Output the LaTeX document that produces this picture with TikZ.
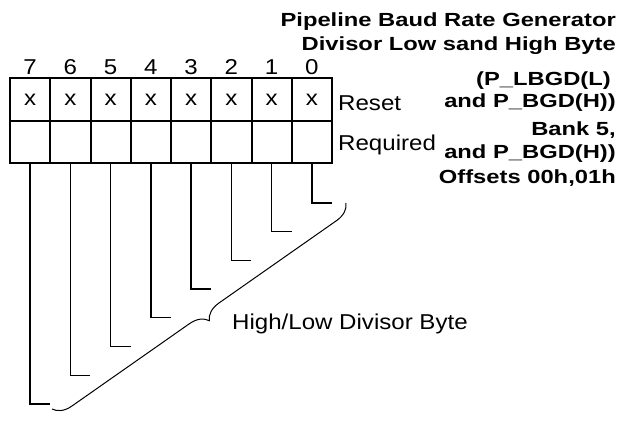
\documentclass[tikz,border=0pt]{standalone}
\usepackage{fontspec}
\setmainfont{Liberation Sans}
\newfontfamily\regfont{Liberation Sans}[FakeStretch=1.12]
\newfontfamily\hdrfont{Liberation Sans}[FakeStretch=1.25]
\usetikzlibrary{positioning,decorations.pathreplacing}

\begin{document}
\begin{tikzpicture}[x=1pt, y=-1pt,
  cell/.style={draw, line width=2pt, minimum width=40.25pt, minimum height=43pt, inner sep=0pt, font=\regfont\fontsize{21.5}{24}\selectfont},
  lbl/.style={inner sep=0pt, font=\regfont\fontsize{21.5}{24}\selectfont},
  hdr/.style={inner sep=0pt, anchor=base east, font=\hdrfont\bfseries\fontsize{19}{22}\selectfont},
  lead/.style={line width=1.3pt},
  brc/.style={decorate, decoration={brace, amplitude=18pt}, line width=1pt}
]
\useasboundingbox (0,0) rectangle (621,423);
% register cells, bit numbers and leads
\foreach \b in {7,...,0} {
  \pgfmathsetmacro{\cx}{10+40.25*(7.5-\b)}
  \node[cell] (r\b) at (\cx,99.5) {x};
  \node[cell, minimum height=42pt] (q\b) at (\cx,142) {};
  \node[lbl, above=2pt of r\b] (n\b) {\b};
  \coordinate (e\b) at ({\cx+20},{203+28.7*\b});
  \draw[lead] (q\b.south) |- (e\b);
}
\node[lbl, anchor=base west] (rst) at (338,110) {Reset};
\node[lbl, anchor=base west] (req) at (338,150) {Required};
% register title
\node[hdr] (t1) at (616,27) {Pipeline Baud Rate Generator};
\node[hdr] (t2) at (616,50) {Divisor Low sand High Byte};
\node[hdr] (t3) at (616,85) {(P\_LBGD(L)\hspace*{5pt}};
\node[hdr] (t4) at (616,107) {and P\_BGD(H))};
\node[hdr] (t5) at (616,135) {Bank 5,};
\node[hdr] (t6) at (616,158) {and P\_BGD(H))};
\node[hdr] (t7) at (616,183) {Offsets 00h,01h};
% brace
\coordinate (bt) at (346,203);
\coordinate (bb) at (52,409);
\draw[brc] (bt) -- (bb);
\node[lbl, anchor=west] (hl) at (232,324) {High/Low Divisor Byte};
\end{tikzpicture}
\end{document}
